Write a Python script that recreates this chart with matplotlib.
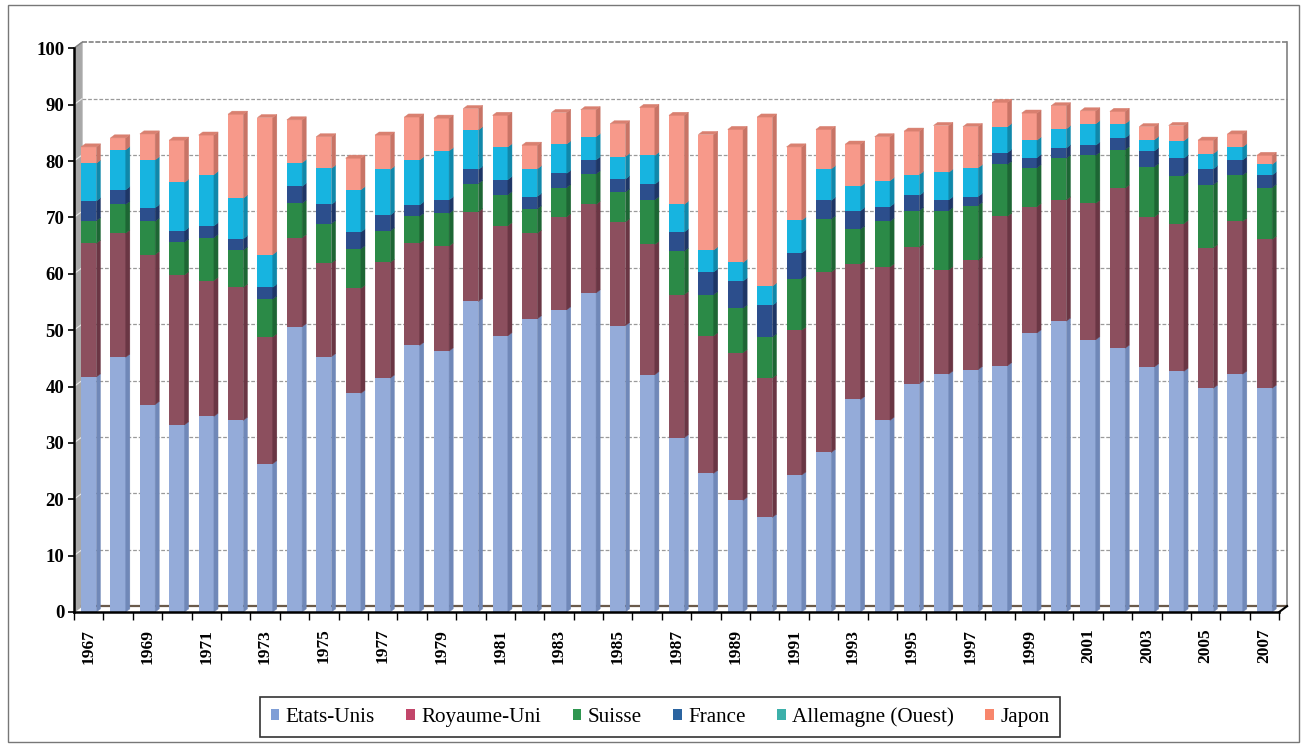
import numpy as np
import matplotlib.pyplot as plt
from matplotlib.patches import Patch, Rectangle

years = list(range(1967, 2008))

# share of each country (%)
etats_unis = [41.7, 45.2, 36.8, 33.2, 34.7, 34.0, 26.3, 50.6, 45.3, 38.8,
              41.5, 47.3, 46.3, 55.1, 49.0, 52.0, 53.6, 56.6, 50.8, 42.1,
              30.9, 24.6, 19.8, 16.8, 24.3, 28.3, 37.7, 34.0, 40.5, 42.2,
              43.0, 43.7, 49.5, 51.6, 48.3, 46.8, 43.5, 42.7, 39.7, 42.2, 39.7]
royaume_uni = [23.7, 22.0, 26.6, 26.6, 24.1, 23.6, 22.5, 15.8, 16.6, 18.6,
               20.5, 18.1, 18.6, 15.9, 19.5, 15.2, 16.5, 15.7, 18.4, 23.1,
               25.4, 24.4, 26.2, 24.7, 25.7, 32.0, 24.0, 27.2, 24.2, 18.5,
               19.4, 26.5, 22.4, 21.5, 24.2, 28.4, 26.6, 26.2, 24.9, 27.1, 26.4]
suisse = [4.0, 5.1, 5.9, 5.8, 7.6, 6.6, 6.7, 6.1, 7.0, 7.0,
          5.6, 4.8, 5.8, 5.0, 5.5, 4.3, 5.2, 5.4, 5.3, 7.9,
          7.7, 7.3, 7.9, 7.3, 9.1, 9.4, 6.2, 8.1, 6.5, 10.5,
          9.7, 9.2, 6.9, 7.4, 8.5, 6.8, 8.9, 8.5, 11.2, 8.2, 9.2]
france = [3.5, 2.6, 2.4, 2.0, 2.1, 2.0, 2.1, 3.0, 3.4, 3.0,
          2.8, 2.0, 2.4, 2.5, 2.7, 2.2, 2.5, 2.5, 2.3, 2.8,
          3.4, 4.0, 4.8, 5.6, 4.6, 3.3, 3.3, 2.6, 2.7, 1.9,
          1.6, 2.1, 1.8, 1.8, 1.8, 2.1, 2.8, 3.1, 2.8, 2.7, 2.2]
allemagne = [6.7, 7.1, 8.5, 8.6, 9.1, 7.2, 5.8, 4.2, 6.4, 7.5,
             8.1, 8.0, 8.7, 7.0, 5.8, 4.9, 5.2, 4.1, 4.0, 5.1,
             4.9, 3.9, 3.3, 3.4, 5.8, 5.6, 4.3, 4.6, 3.7, 4.9,
             5.1, 4.6, 3.1, 3.4, 3.8, 2.5, 2.0, 3.1, 2.7, 2.3, 1.9]
japon = [2.9, 2.1, 4.6, 7.5, 7.0, 14.9, 24.3, 7.6, 5.6, 5.6,
         6.1, 7.6, 5.8, 3.8, 5.6, 4.2, 5.6, 4.8, 5.8, 8.5,
         15.8, 20.5, 23.6, 30.0, 13.0, 7.0, 7.5, 7.8, 7.7, 8.3,
         7.3, 4.3, 4.8, 4.1, 2.3, 2.2, 2.3, 2.7, 2.4, 2.3, 1.6]

labels = ['Etats-Unis', 'Royaume-Uni', 'Suisse', 'France', 'Allemagne (Ouest)', 'Japon']
series = [etats_unis, royaume_uni, suisse, france, allemagne, japon]
bar_cols = ['#94abd9', '#8c4f5e', '#2b8a47', '#2c4e8c', '#17b4e0', '#f7998a']
side_cols = ['#7088b8', '#6a3644', '#1d6634', '#1e3666', '#1088aa', '#c87466']
legend_cols = ['#7f9ed6', '#c2466a', '#2f9650', '#2b64a0', '#3cb0aa', '#f8866c']

plt.rcParams['font.family'] = ['Liberation Serif', 'DejaVu Serif']

fig = plt.figure(figsize=(13.05, 7.47), dpi=100)
ax = fig.add_axes([74/1305, 135/747, 1214/1305, 575/747])

x = np.array(years, dtype=float)
x0, x1 = 1966.5, 2007.5
dx, dy = 0.27, 1.05        # depth of the back wall
bw = 0.52                  # bar width
bdx, bdy = 0.14, 0.55      # depth of a bar

# back wall, left wall, floor
ax.fill([x0, x0+dx, x0+dx, x0], [0, dy, 100+dy, 100], color='#a8a8a8', zorder=0.4)
for g in range(10, 100, 10):
    ax.plot([x0+dx, x1+dx], [g+dy, g+dy], color='#9a9a9a', lw=0.9, ls=(0, (3, 1.5)), zorder=0.5)
    ax.plot([x0, x0+dx], [g, g+dy], color='#e8e8e8', lw=0.8, zorder=0.5)
ax.plot([x0+dx, x1+dx], [100+dy, 100+dy], color='#808080', lw=1.2, ls=(0, (3, 1)), zorder=0.5)
ax.plot([x0, x0+dx], [100, 100+dy], color='#808080', lw=1.0, zorder=0.5)
ax.plot([x1+dx, x1+dx], [dy, 100+dy], color='#808080', lw=1.2, zorder=0.5)
ax.plot([x0+dx, x1+dx], [dy, dy], color='#6a5a4a', lw=1.6, zorder=0.5)
ax.plot([x1, x1+dx], [0, dy], color='black', lw=1.5, zorder=3, clip_on=False)

bottom = np.zeros(len(years))
for vals, c, sc in zip(series, bar_cols, side_cols):
    vals = np.array(vals)
    ax.bar(x, vals, bw, bottom=bottom, color=c, edgecolor='none', zorder=2)
    for xi, b, h in zip(x, bottom, vals):
        xr = xi + bw/2
        ax.fill([xr, xr+bdx, xr+bdx, xr], [b, b+bdy, b+h+bdy, b+h],
                facecolor=sc, edgecolor=sc, lw=0.3, zorder=2)
    bottom = bottom + vals

# top caps
for xi, t in zip(x, bottom):
    ax.fill([xi-bw/2, xi-bw/2+bdx, xi+bw/2+bdx, xi+bw/2], [t, t+bdy, t+bdy, t],
            facecolor='#d98070', edgecolor='#d98070', lw=0.3, zorder=2)

ax.set_xlim(x0, x1 + 0.3)
ax.set_ylim(0, 102)
for s in ['top', 'right']:
    ax.spines[s].set_visible(False)
ax.spines['left'].set_bounds(0, 100)
ax.spines['bottom'].set_bounds(x0, x1)
ax.spines['left'].set_linewidth(1.8)
ax.spines['bottom'].set_linewidth(1.8)

ax.set_yticks(range(0, 101, 10))
ax.tick_params(axis='y', length=4, width=1.2, pad=3)
for t in ax.get_yticklabels():
    t.set_fontsize(13.5)
    t.set_fontweight('bold')

ax.set_xticks(years[::2])
ax.set_xticklabels([str(y) for y in years[::2]], rotation=90, fontsize=12.5, fontweight='bold')
ax.set_xticks(np.arange(x0, x1 + 0.5, 1), minor=True)
ax.tick_params(axis='x', which='major', length=0, pad=12)
ax.tick_params(axis='x', which='minor', length=6, width=1.0)

handles = [Patch(facecolor=c, edgecolor='none') for c in legend_cols]
leg = fig.legend(handles, labels, loc='center', bbox_to_anchor=(660/1305, 1 - 717/747),
                 ncol=6, fontsize=15.2, frameon=True, fancybox=False, edgecolor='black',
                 handlelength=0.4, handleheight=0.4, handletextpad=0.3,
                 columnspacing=1.5, borderpad=0.5, borderaxespad=0)
leg.get_frame().set_linewidth(1.2)

fig.patches.append(Rectangle((8/1305, 5/747), 1291/1305, 737/747, transform=fig.transFigure,
                             fill=False, edgecolor='#777777', lw=1.0))

fig.savefig('out.png', dpi=100)
